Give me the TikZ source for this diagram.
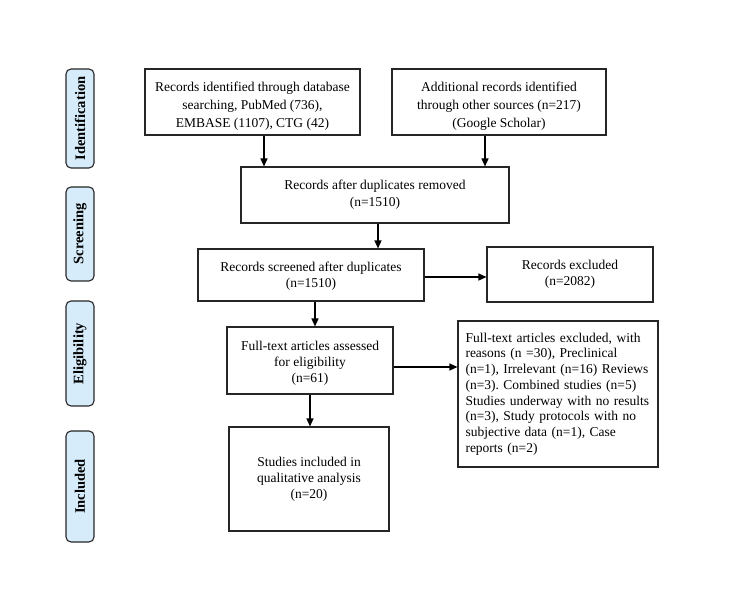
\documentclass[tikz,border=0pt]{standalone}
\usepackage{fontspec}
\setmainfont{Liberation Serif}
\usetikzlibrary{arrows.meta,calc}
\definecolor{sidefill}{RGB}{214,236,250}
\newcommand{\topstrut}[1]{\rule{0pt}{#1}}
\frenchspacing
\tikzset{
  box/.style={draw=black!85, line width=1.1pt, inner sep=2pt, font=\fontsize{13.5}{16}\selectfont, align=center},
  side/.style={draw=black!85, line width=1.1pt, fill=sidefill, rounded corners=5pt, rotate=90, font=\fontsize{14.5}{16}\selectfont\bfseries, inner sep=0pt},
  arr/.style={line width=1.4pt, -{Triangle[length=8pt,width=7pt]}}
}
\begin{document}
\begin{tikzpicture}[x=1pt,y=-1pt]
\useasboundingbox (0,0) rectangle (750,593);
% side labels (rotated: minimum width = vertical extent)
\node[side, minimum width=99pt, minimum height=28pt] (sid) at (80,118.5) {Identification};
\node[side, minimum width=94pt, minimum height=28pt] (ssc) at (80,234) {Screening};
\node[side, minimum width=105pt, minimum height=28pt] (sel) at (80,353.5) {Eligibility};
\node[side, minimum width=111pt, minimum height=28pt] (sin) at (80,486.5) {Included};
% boxes
\node[box, minimum width=215pt, minimum height=66pt, font=\fontsize{13.5}{18}\selectfont] (b1) at (252.5,102)
  {\topstrut{17.5pt}Records identified through database\\searching, PubMed (736),\\EMBASE (1107), CTG (42)};
\node[box, minimum width=214pt, minimum height=66pt, font=\fontsize{13.5}{18}\selectfont] (b2) at (499,102)
  {\topstrut{17.5pt}Additional records identified\\through other sources (n=217)\\(Google Scholar)};
\node[box, minimum width=268pt, minimum height=56pt, font=\fontsize{13.5}{17}\selectfont] (b3) at (375,195)
  {Records after duplicates removed\\(n=1510)};
\node[box, minimum width=226pt, minimum height=52pt] (b4) at (311,275)
  {\topstrut{12.5pt}Records screened after duplicates\\(n=1510)};
\node[box, minimum width=166pt, minimum height=55pt] (b5) at (570,274.5)
  {Records excluded\\(n=2082)};
\node[box, minimum width=166pt, minimum height=67pt] (b6) at (310,360.5)
  {\topstrut{15.5pt}Full-text articles assessed\\for eligibility\\(n=61)};
\node[box, minimum width=200pt, minimum height=146pt, text width=185pt, align=left, font=\fontsize{13.5}{15.7}\selectfont] (b7) at (558,394)
  {Full-text articles excluded, with\\reasons (n =30), Preclinical\\(n=1), Irrelevant (n=16) Reviews\\(n=3). Combined studies (n=5)\\Studies underway with no results\\(n=3), Study protocols with no\\subjective data (n=1), Case\\reports (n=2)};
\node[box, minimum width=160pt, minimum height=104pt] (b8) at (309,479)
  {Studies included in\\qualitative analysis\\(n=20)};
% helper coordinates for arrow columns/rows
\coordinate (c1) at (264,0);
\coordinate (c2) at (485,0);
\coordinate (c3) at (378,0);
\coordinate (c4) at (315,0);
\coordinate (c5) at (310,0);
\coordinate (r1) at (0,277);
\coordinate (r2) at (0,367);
% arrows
\draw[arr] (b1.south -| c1) -- (b3.north -| c1);
\draw[arr] (b2.south -| c2) -- (b3.north -| c2);
\draw[arr] (b3.south -| c3) -- (b4.north -| c3);
\draw[arr] (b4.east |- r1) -- (b5.west |- r1);
\draw[arr] (b4.south -| c4) -- (b6.north -| c4);
\draw[arr] (b6.east |- r2) -- (b7.west |- r2);
\draw[arr] (b6.south -| c5) -- (b8.north -| c5);
\end{tikzpicture}
\end{document}
